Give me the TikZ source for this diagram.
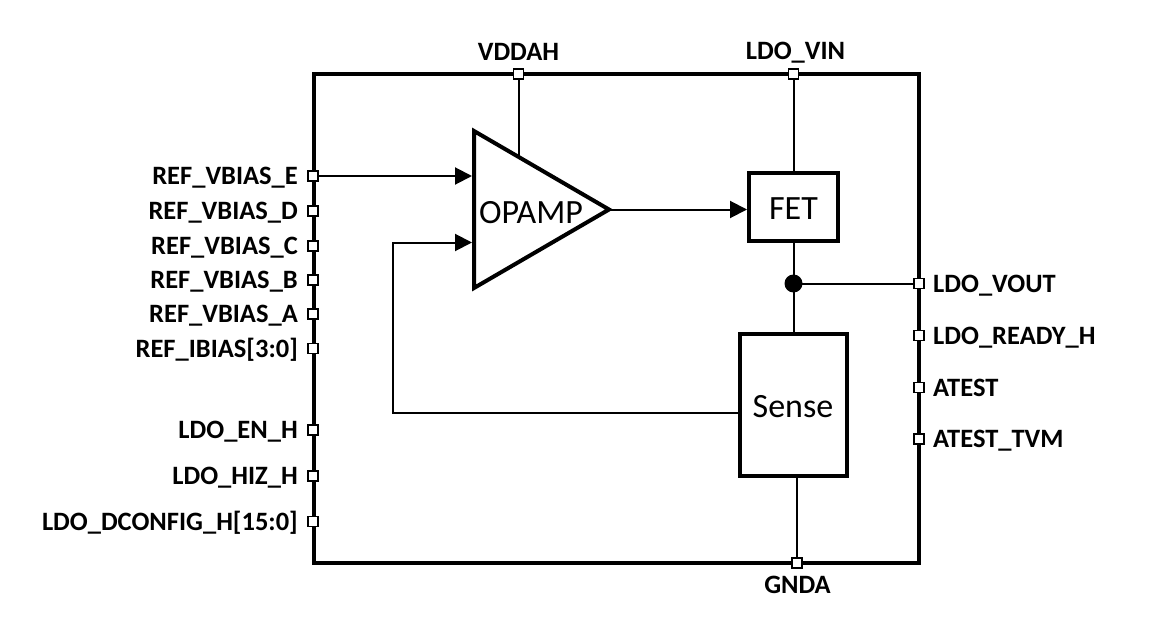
\documentclass[tikz,border=0pt]{standalone}
\usepackage{fontspec}
\setmainfont{Carlito}
\usetikzlibrary{arrows.meta}
\begin{document}
\begin{tikzpicture}[x=1pt,y=-1pt,
  pinbox/.style={draw, line width=1.9pt, fill=white, minimum size=10pt, inner sep=0pt, outer sep=0pt},
  lbl/.style={font=\fontsize{26.5}{29}\selectfont\bfseries, inner sep=0pt},
  blkfont/.style={font=\fontsize{34}{37}\selectfont, inner sep=0pt},
  blk/.style={draw, line width=4pt, fill=white, inner sep=0pt},
  wire/.style={line width=2pt},
  arr/.style={wire, -{Triangle[length=17pt,width=17pt]}},
]
\useasboundingbox (0,0) rectangle (1150,639);
\fill[white] (0,0) rectangle (1150,639);
% outer block
\draw[line width=4pt] (314,74) rectangle (919,563);

% blocks
\node[blk, minimum width=89pt, minimum height=68pt] (fet) at (793.5,207) {};
\node[blkfont, anchor=base] (fettxt) at (793.5,219.5) {FET};
\node[blk, minimum width=107pt, minimum height=141.5pt] (sense) at (793.5,404.75) {};
\node[blkfont, anchor=base] (sensetxt) at (793,417.5) {Sense};

% opamp
\coordinate (oa1) at (474,131);
\coordinate (oa2) at (474,288);
\coordinate (oout) at (609,209.5);
\draw[line width=4pt, fill=white] (oa1) -- (oout) -- (oa2) -- cycle;
\node[blkfont, anchor=base] (opamp) at (531,223.5) {OPAMP};
\coordinate (in1) at (472,176);
\coordinate (in2) at (472,242.5);
\coordinate (vtop) at (518.5,156.5);

% pins top/bottom
\node[pinbox] (vddah) at (518.5,74) {};
\node[lbl, anchor=base] (tvddah) at (518.5,61) {VDDAH};
\node[pinbox] (ldovin) at (793.5,74) {};
\node[lbl, anchor=base] (tldovin) at (795.5,60) {LDO\_VIN};
\node[pinbox] (gnda) at (797,563) {};
\node[lbl, anchor=base] (tgnda) at (797.5,593) {GNDA};

% left pins
\foreach \nm/\yy/\tx in {pe/176/REF\_VBIAS\_E, pd/211/REF\_VBIAS\_D, pc/246/REF\_VBIAS\_C, pb/280/REF\_VBIAS\_B, pa/314/REF\_VBIAS\_A, pi/348.5/{REF\_IBIAS[3:0]}, pen/430/LDO\_EN\_H, phiz/476/LDO\_HIZ\_H, pdc/521.5/{LDO\_DCONFIG\_H[15:0]}}{
  \node[pinbox] (\nm) at (313,\yy) {};
  \node[lbl, anchor=base east] (t\nm) at (298,\yy+8.5) {\tx};
}
% right pins
\foreach \nm/\yy/\tx in {pvout/283.5/LDO\_VOUT, prdy/335.5/LDO\_READY\_H, pat/387.5/ATEST, ptvm/439/ATEST\_TVM}{
  \node[pinbox] (\nm) at (919,\yy) {};
  \node[lbl, anchor=base west] (t\nm) at (933,\yy+8.5) {\tx};
}

% connections
\draw[arr] (pe.east) -- (in1);
\coordinate (fb) at (393,413);
\draw[arr] (fb -| sense.west) -- (fb) |- (in2);
\draw[arr] (oout) -- (oout -| fet.west);
\draw[wire] (vddah.south) -- (vtop);
\draw[wire] (ldovin.south) -- (fet.north);
\coordinate (junc) at (793.5,283.5);
\draw[wire] (fet.south) -- (sense.north);
\draw[wire] (junc) -- (pvout.west);
\fill (junc) circle (9);
\draw[wire] (sense.south -| gnda) -- (gnda.north);
\end{tikzpicture}
\end{document}
